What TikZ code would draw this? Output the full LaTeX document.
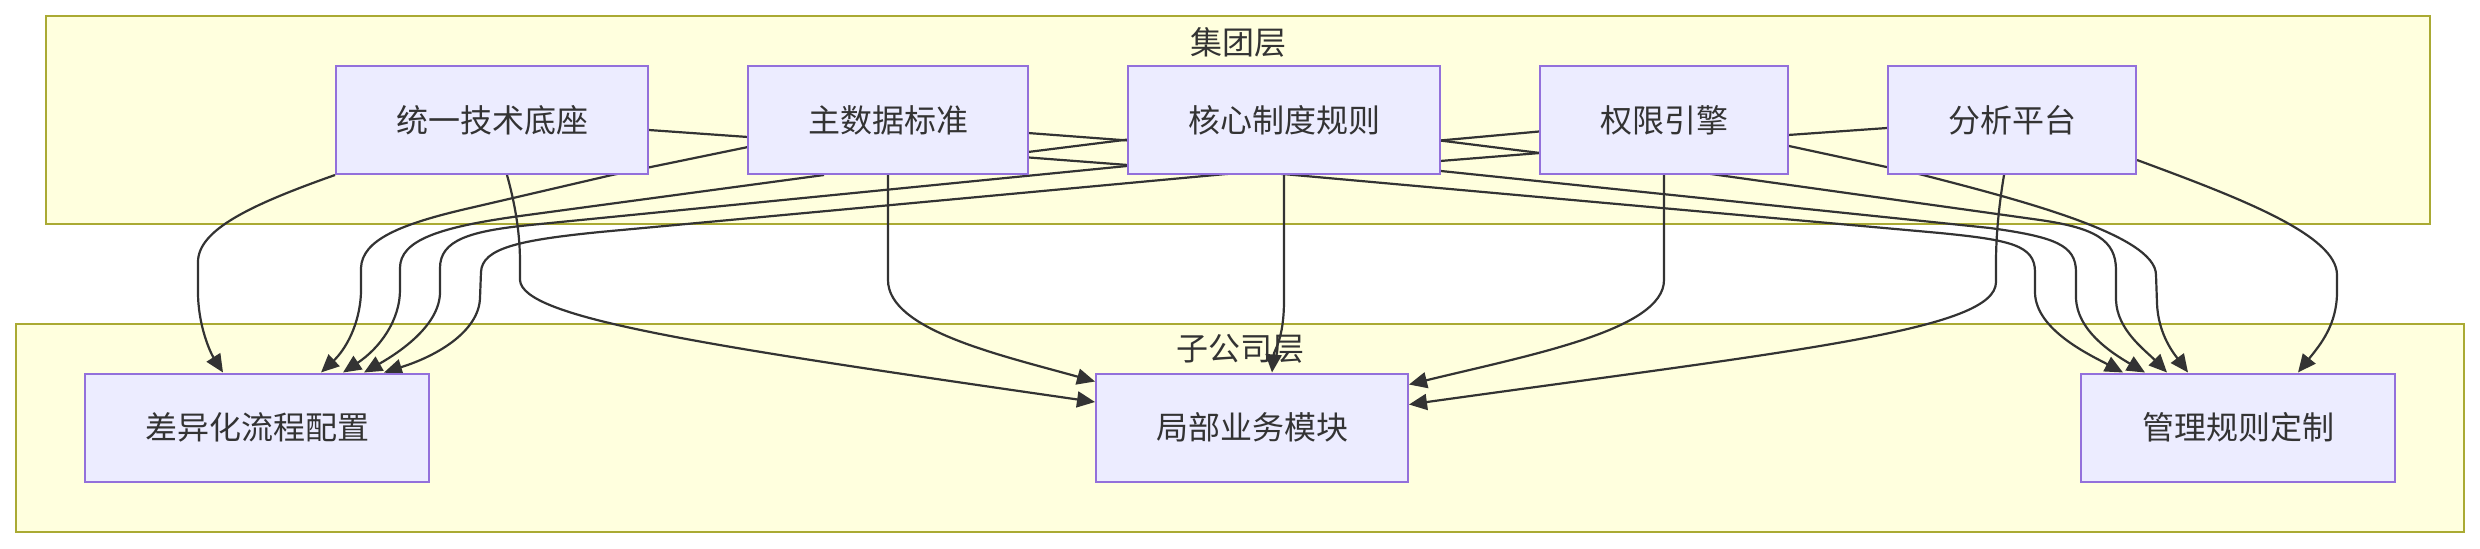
\documentclass[tikz,border=0pt]{standalone}
\usepackage{fontspec}
\setmainfont{Noto Sans CJK SC}
\usetikzlibrary{arrows.meta, calc}
\definecolor{tierfill}{HTML}{FFFFDE}
\definecolor{tierline}{HTML}{AAAA33}
\definecolor{boxfill}{HTML}{ECECFF}
\definecolor{boxline}{HTML}{9370DB}
\definecolor{ink}{HTML}{333333}
\pgfdeclarelayer{back}
\pgfdeclarelayer{wires}
\pgfsetlayers{back,wires,main}

\begin{document}
\begin{tikzpicture}[x=0.5pt, y=-0.5pt,
  tier/.style={fill=tierfill, draw=tierline, line width=1pt},
  tiertitle/.style={text=ink, font=\fontsize{16}{19}\selectfont},
  box/.style={rectangle, fill=boxfill, draw=boxline, line width=1pt, inner sep=0pt,
    minimum height=54pt, text=ink, font=\fontsize{16}{19}\selectfont},
  flow/.style={draw=ink, line width=1.1pt, line join=round, -{Triangle[length=9pt, width=8pt]}}]
  \useasboundingbox (0,0) rectangle (2480,548);
  % layers
  \begin{pgfonlayer}{back}
    \draw[tier] (46,16) rectangle (2430,224);
    \draw[tier] (16,324) rectangle (2464,532);
  \end{pgfonlayer}
  \node[tiertitle] (grp) at (1238,42) {集团层};
  \node[tiertitle] (sub) at (1240,349) {子公司层};
  % group nodes
  \foreach \id/\x/\w/\txt in {base/492/312/统一技术底座, mdata/888/280/主数据标准,
      core/1284/312/核心制度规则, perm/1664/248/权限引擎, anal/2012/248/分析平台}{
    \node[box, minimum width=\w*0.5pt] (\id) at (\x,120) {\txt};
  }
  % subsidiary nodes
  \foreach \id/\x/\w/\txt in {diff/257/344/差异化流程配置, local/1252/312/局部业务模块,
      mgmt/2238/314/管理规则定制}{
    \node[box, minimum width=\w*0.5pt] (\id) at (\x,427.5) {\txt};
  }
  \begin{pgfonlayer}{wires}
    % from base
    \draw[flow] (base.south west) .. controls (250,205) and (198,230) .. (198,262) -- (198,292)
      .. controls (198,325) and (210,352) .. ($(diff.north)+(-34,0)$);
    \draw[flow] ($(base.south)+(15,0)$) .. controls (514,200) and (520,230) .. (520,262) -- (520,280)
      .. controls (522,318) and (700,345) .. ($(local.west)+(0,-25.5)$);
    \draw[flow] ($(base.east)+(0,10)$) -- (748,137) -- (1028,133) -- (1128,140.5) -- (1440,140.5)
      -- (1540,153) -- (1711,174) -- (2040,220) .. controls (2095,228) and (2116,240) .. (2116,270)
      -- (2116,300) .. controls (2117,330) and (2145,350) .. ($(mgmt.north)+(-71,0)$);
    % from mdata
    \draw[flow] ($(mdata.south)+(-64,0)$) -- (520,216) .. controls (440,227) and (400,240) .. (400,268)
      -- (400,290) .. controls (400,320) and (380,348) .. ($(diff.north)+(86,0)$);
    \draw[flow] (mdata.south) -- (888,280) .. controls (888,330) and (1000,355) .. ($(local.west)+(0,-46)$);
    \draw[flow] ($(mdata.east)+(0,37.5)$) -- (1128,165) -- (1283,174) -- (1940,233)
      .. controls (2010,240) and (2035,245) .. (2035,272) -- (2035,293)
      .. controls (2036,330) and (2090,355) .. ($(mgmt.north)+(-115,0)$);
    % from core
    \draw[flow] ($(core.west)+(0,46)$) -- (530,225) .. controls (470,231) and (440,240) .. (440,268)
      -- (440,292) .. controls (440,325) and (400,352) .. ($(diff.north)+(107,0)$);
    \draw[flow] (core.south) -- (1284,300) .. controls (1284,340) and (1274,350) .. ($(local.north)+(20,0)$);
    \draw[flow] ($(core.east)+(0,51)$) -- (1990,228) .. controls (2055,237) and (2076,245) .. (2076,272)
      -- (2076,298) .. controls (2077,330) and (2110,352) .. ($(mgmt.north)+(-93,0)$);
    % from perm
    \draw[flow] ($(perm.west)+(0,11.5)$) -- (1440,140.5) -- (1128,139.5) -- (1028,152) -- (748,147)
      -- (612,175) -- (470,208) .. controls (400,224) and (362,240) .. (361,268) -- (361,292)
      .. controls (360,325) and (345,350) .. ($(diff.north)+(64,0)$);
    \draw[flow] (perm.south) -- (1664,280) .. controls (1664,330) and (1530,355) .. ($(local.east)+(0,-43)$);
    \draw[flow] ($(perm.east)+(0,26)$) -- (1919,174) .. controls (2020,200) and (2156,235) .. (2156,275)
      -- (2157,303) .. controls (2158,335) and (2175,355) .. ($(mgmt.north)+(-50,0)$);
    % from anal
    \draw[flow] ($(anal.west)+(0,8)$) -- (1788,135) -- (1540,153) -- (1440,161) -- (1226,174)
      -- (600,232) .. controls (520,240) and (482,248) .. (481,272) -- (480,298)
      .. controls (479,330) and (440,355) .. ($(diff.north)+(127,0)$);
    \draw[flow] ($(anal.south)+(-8,0)$) .. controls (1999,205) and (1996,235) .. (1996,262) -- (1996,282)
      .. controls (1996,330) and (1800,350) .. ($(local.east)+(0,-23)$);
    \draw[flow] ($(anal.east)+(0,40)$) .. controls (2240,198) and (2337,235) .. (2337,275) -- (2337,292)
      .. controls (2337,325) and (2320,345) .. ($(mgmt.north)+(60,0)$);
  \end{pgfonlayer}
\end{tikzpicture}
\end{document}
